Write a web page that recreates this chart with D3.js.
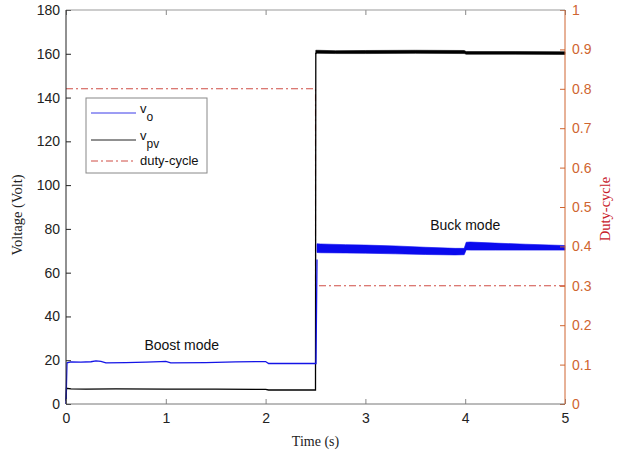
<!DOCTYPE html>
<html>
<head>
<meta charset="utf-8">
<script src="https://cdn.jsdelivr.net/npm/d3@7"></script>
<style>
  body { margin: 0; background: #fff; }
  svg text { font-family: "Liberation Sans", Arial, sans-serif; }
  svg text.serif { font-family: "Liberation Serif", "Times New Roman", serif; }
</style>
</head>
<body>
<svg id="chart" width="627" height="454"></svg>
<script>
// ---- tick values ----
const timeTicks = [0, 1, 2, 3, 4, 5];
const voltTicks = [0, 20, 40, 60, 80, 100, 120, 140, 160, 180];
const dutyTicks = [0, 0.1, 0.2, 0.3, 0.4, 0.5, 0.6, 0.7, 0.8, 0.9, 1];
const dutyTickLabels = ["0", "0.1", "0.2", "0.3", "0.4", "0.5", "0.6", "0.7", "0.8", "0.9", "1"];

// ---- boost mode (0 - 2.5 s): output and PV voltages ----
const boostTime = [0, 0.01, 0.05, 0.15, 0.25, 0.3, 0.35, 0.4, 0.6, 0.8, 0.95, 1.0, 1.05, 1.4, 1.7, 1.9, 2.0, 2.03, 2.3, 2.505, 2.515];
const voBoost   = [0, 18.8, 19.2, 19.1, 19.3, 19.7, 19.5, 18.8, 18.9, 19.1, 19.4, 19.5, 18.8, 18.9, 19.2, 19.4, 19.4, 18.5, 18.5, 18.5, 66];
const vpvBoostTime = [0, 0.005, 0.05, 0.2, 0.5, 1.0, 1.5, 2.0, 2.03, 2.5, 2.503];
const vpvBoost     = [1.5, 7.2, 6.9, 6.8, 6.9, 6.8, 6.8, 6.7, 6.4, 6.4, 160.5];

// ---- buck mode (2.5 - 5 s): ripple envelopes ----
const buckTime  = [2.515, 2.55, 2.8, 3.0, 3.3, 3.6, 3.9, 3.99, 4.01, 4.05, 4.3, 4.6, 5.0];
const voBuckHigh = [73.2, 73.1, 72.8, 72.6, 72.2, 71.6, 71.1, 71.1, 73.9, 74.0, 73.5, 73.0, 72.4];
const voBuckLow  = [69.2, 69.1, 69.0, 68.9, 68.6, 68.3, 68.1, 68.2, 70.4, 70.3, 70.3, 70.3, 70.3];
const vpvBuckTime = [2.503, 2.52, 2.7, 3.0, 3.5, 3.99, 4.01, 4.5, 5.0];
const vpvBuckHigh = [161.6, 161.6, 161.4, 161.5, 161.6, 161.5, 161.0, 161.0, 160.9];
const vpvBuckLow  = [160.0, 160.2, 160.1, 160.1, 160.2, 160.1, 159.8, 159.8, 159.7];

// ---- duty cycle ----
const dutyTime  = [0, 2.5, 2.5, 5];
const dutyValue = [0.8, 0.8, 0.3, 0.3];

// ---- annotations ----
const modeLabels = [
  { text: "Boost mode", t: 1.16, v: 24.5 },
  { text: "Buck mode",  t: 4.0,  v: 79.5 }
];

const W = 627, H = 454;
const margin = { top: 10, right: 62, bottom: 50, left: 66 };
const iw = W - margin.left - margin.right;
const ih = H - margin.top - margin.bottom;

const orange = "#cf6530";
const dutyLine = "#cf4d45";

const svg = d3.select("#chart");
const g = svg.append("g").attr("transform", `translate(${margin.left},${margin.top})`);

const x = d3.scaleLinear().domain([0, 5]).range([0, iw]);
const yV = d3.scaleLinear().domain([0, 180]).range([ih, 0]);
const yD = d3.scaleLinear().domain([0, 1]).range([ih, 0]);

// ---- duty-cycle (dash-dot) ----
const dutyPts = dutyTime.map((t, i) => [t, dutyValue[i]]);
g.append("path")
  .attr("d", d3.line().x(d => x(d[0])).y(d => yD(d[1]))(dutyPts))
  .attr("fill", "none").attr("stroke", dutyLine).attr("stroke-width", 1.1)
  .attr("stroke-dasharray", "7,3,2,3");

// ---- PV voltage ----
const vpvPts = vpvBoostTime.map((t, i) => [t, vpvBoost[i]]);
g.append("path")
  .attr("d", d3.line().x(d => x(d[0])).y(d => yV(d[1]))(vpvPts))
  .attr("fill", "none").attr("stroke", "#000").attr("stroke-width", 1.3);
const vpvBand = vpvBuckTime.map((t, i) => ({ t, hi: vpvBuckHigh[i], lo: vpvBuckLow[i] }));
g.append("path")
  .attr("d", d3.area().x(d => x(d.t)).y0(d => yV(d.lo)).y1(d => yV(d.hi))(vpvBand))
  .attr("fill", "#000").attr("stroke", "#000").attr("stroke-width", 0.6);

// ---- output voltage ----
const voPts = boostTime.map((t, i) => [t, voBoost[i]]);
g.append("path")
  .attr("d", d3.line().x(d => x(d[0])).y(d => yV(d[1]))(voPts))
  .attr("fill", "none").attr("stroke", "#1414e6").attr("stroke-width", 1.3);
const voBand = buckTime.map((t, i) => ({ t, hi: voBuckHigh[i], lo: voBuckLow[i] }));
g.append("path")
  .attr("d", d3.area().x(d => x(d.t)).y0(d => yV(d.lo)).y1(d => yV(d.hi))(voBand))
  .attr("fill", "#0a0aee").attr("stroke", "#0a0aee").attr("stroke-width", 0.6);

// ---- axes ----
const styleAxis = (sel, lineColor, textColor) => {
  sel.select(".domain").remove();
  sel.selectAll(".tick line").attr("stroke", lineColor);
  sel.selectAll(".tick text").attr("font-size", 14).attr("fill", textColor);
};

// bottom
const xb = g.append("g").attr("transform", `translate(0,${ih})`)
  .call(d3.axisBottom(x).tickValues(timeTicks).tickFormat(d3.format("d")).tickSize(-5).tickPadding(9));
styleAxis(xb, "#888", "#222");
// top
const xt = g.append("g")
  .call(d3.axisTop(x).tickValues(timeTicks).tickSize(-5).tickFormat(""));
styleAxis(xt, "#888", "#222");

// left
const yl = g.append("g")
  .call(d3.axisLeft(yV).tickValues(voltTicks).tickFormat(d3.format("d")).tickSize(-5).tickPadding(6));
styleAxis(yl, "#222", "#222");

// right
const yr = g.append("g").attr("transform", `translate(${iw},0)`)
  .call(d3.axisRight(yD).tickValues(dutyTicks).tickFormat((d, i) => dutyTickLabels[i]).tickSize(-5).tickPadding(7));
styleAxis(yr, orange, orange);

// frame lines
g.append("line").attr("x1", 0).attr("x2", iw).attr("y1", 0).attr("y2", 0).attr("stroke", "#999");
g.append("line").attr("x1", 0).attr("x2", iw).attr("y1", ih).attr("y2", ih).attr("stroke", "#777");
g.append("line").attr("x1", 0).attr("x2", 0).attr("y1", 0).attr("y2", ih).attr("stroke", "#222");
g.append("line").attr("x1", iw).attr("x2", iw).attr("y1", 0).attr("y2", ih).attr("stroke", orange);

// ---- axis titles ----
svg.append("text").attr("class", "serif")
  .attr("transform", `translate(22,${margin.top + ih / 2 + 8}) rotate(-90)`)
  .attr("text-anchor", "middle")
  .attr("font-size", 14.5).attr("fill", "#222")
  .text("Voltage (Volt)");
svg.append("text").attr("class", "serif")
  .attr("transform", `translate(610,${margin.top + ih / 2 + 2}) rotate(-90)`)
  .attr("text-anchor", "middle")
  .attr("font-size", 14.5).attr("fill", "#c8202a")
  .text("Duty-cycle");
svg.append("text").attr("class", "serif")
  .attr("x", margin.left + iw / 2).attr("y", 446)
  .attr("text-anchor", "middle")
  .attr("font-size", 14).attr("fill", "#222")
  .text("Time (s)");

// ---- mode annotations ----
modeLabels.forEach(m => {
  g.append("text")
    .attr("x", x(m.t)).attr("y", yV(m.v))
    .attr("text-anchor", "middle")
    .attr("font-size", 14).attr("fill", "#111")
    .text(m.text);
});

// ---- legend ----
const legend = svg.append("g").attr("transform", "translate(86,98)");
legend.append("rect").attr("width", 121).attr("height", 75)
  .attr("fill", "#fff").attr("stroke", "#888").attr("stroke-width", 1);
const entries = [
  { main: "v", sub: "o", color: "#3a3ae8", dash: null, y: 15 },
  { main: "v", sub: "pv", color: "#222", dash: null, y: 42 },
  { main: "duty-cycle", sub: null, color: dutyLine, dash: "7,3,2,3", y: 63 }
];
entries.forEach(e => {
  legend.append("line").attr("x1", 5).attr("x2", 50).attr("y1", e.y).attr("y2", e.y)
    .attr("stroke", e.color).attr("stroke-width", 1).attr("stroke-dasharray", e.dash);
  const t = legend.append("text").attr("x", 54).attr("y", e.y + (e.sub ? 0 : 4))
    .attr("font-size", 13).attr("fill", "#111");
  t.append("tspan").text(e.main);
  if (e.sub) t.append("tspan").attr("dy", 8).attr("font-size", 12).text(e.sub);
});
</script>
</body>
</html>
